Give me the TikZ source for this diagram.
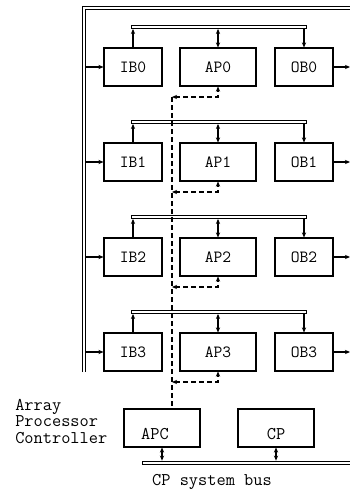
\documentclass[tikz,border=0pt]{standalone}
\usepackage{fontspec}
\usetikzlibrary{arrows.meta}
\begin{document}
\begin{tikzpicture}[x=0.75pt,y=-0.75pt,
  lw/.style={line width=0.8pt},
  box/.style={draw, lw, minimum width=43.5pt, minimum height=28.5pt, inner sep=0pt,
    font=\ttfamily\fontsize{12.8}{14}\selectfont},
  apbox/.style={box, minimum width=57pt},
  ctrlbox/.style={draw, lw, minimum width=57pt, minimum height=28.5pt, inner sep=0pt},
  txt/.style={inner sep=0pt, font=\ttfamily\fontsize{13.4}{12.3}\selectfont},
  busbar/.style={draw, line width=0.65pt, fill=white, minimum width=131.25pt, minimum height=2.2pt, inner sep=0pt},
  arr/.style={lw, -{Stealth[length=3.8pt,width=3.2pt]}},
  darr/.style={lw, {Stealth[length=3.8pt,width=3.2pt]}-{Stealth[length=3.8pt,width=3.2pt]}},
  dasharr/.style={darr, dash pattern=on 3.5pt off 2.5pt},
  frame/.style={line width=0.75pt, double, double distance=1.9pt}
]
\useasboundingbox (0,0) rectangle (350,490);

% outer frame
\coordinate (fbl) at (84,372);
\coordinate (ftl) at (84,8);
\coordinate (ftr) at (351,8);
\draw[frame] (fbl) -- (ftl) -- (ftr);

\foreach \i/\y in {0/67,1/162,2/257,3/352}{
  \node[box] (ib\i) at (133,\y) {IB\i};
  \node[apbox] (ap\i) at (218,\y) {AP\i};
  \node[box] (ob\i) at (304,\y) {OB\i};
  \node[busbar] (bus\i) at (218.5,\y-40) {};
  \draw[arr] (ib\i.north) -- (ib\i.north |- bus\i.south);
  \draw[darr] (ap\i.north) -- (ap\i.north |- bus\i.south);
  \draw[arr] (ob\i.north |- bus\i.south) -- (ob\i.north);
  \coordinate (in\i) at (86,\y);
  \draw[arr] (in\i) -- (ib\i.west);
  \coordinate (out\i) at (350,\y);
  \draw[arr] (ob\i.east) -- (out\i);
  \coordinate (tr\i) at (172,\y+30);
  \draw[dasharr] (tr\i) -- (ap\i.south |- tr\i) -- (ap\i.south);
}

% controller and CP
\node[ctrlbox] (apc) at (162,428) {};
\node[txt] (apct) at (155,434) {APC};
\node[ctrlbox] (cp) at (276,428) {};
\node[txt] (cpt) at (276,434) {CP};

% dashed trunk
\draw[lw, dash pattern=on 3.5pt off 2.5pt] (tr0) -- (tr0 |- apc.north);

% system bus
\node[busbar, minimum width=158pt, anchor=west] (sbus) at (142,462.5) {};
\draw[darr] (apc.south) -- (apc.south |- sbus.north);
\draw[darr] (cp.south) -- (cp.south |- sbus.north);

% labels
\node[txt, align=left, anchor=north west] (apclabel) at (15,399) {Array\\Processor\\Controller};
\node[txt] (sbuslabel) at (212,482) {CP system bus};
\end{tikzpicture}
\end{document}
